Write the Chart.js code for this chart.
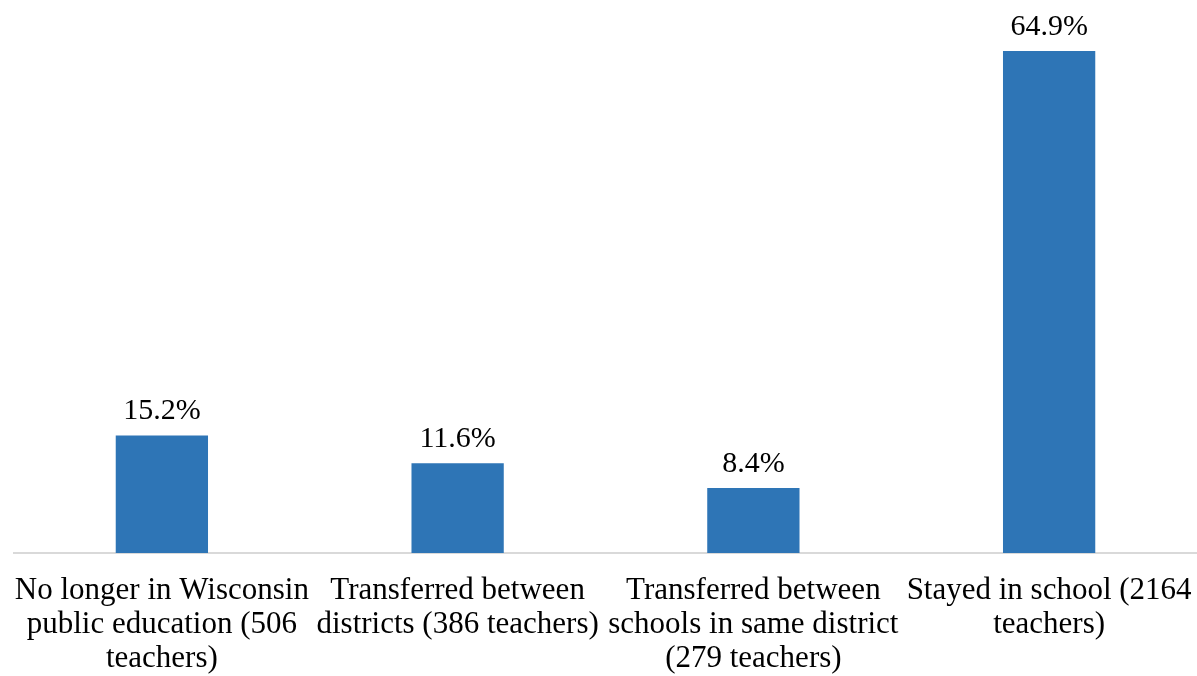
<!DOCTYPE html>
<html>
<head>
<meta charset="utf-8">
<script src="https://cdn.jsdelivr.net/npm/chart.js@4"></script>
<style>
  html, body { margin: 0; padding: 0; background: #fff; overflow: hidden; }
  #wrap { width: 1197px; height: 676px; position: relative; }
  canvas { display: block; }
</style>
</head>
<body>
<div id="wrap"><canvas id="teacherChart"></canvas></div>
<script>
// Where teachers went the following year
const categories = [
  ['No longer in Wisconsin', 'public education (506', 'teachers)'],
  ['Transferred between', 'districts (386 teachers)'],
  ['Transferred between', 'schools in same district', '(279 teachers)'],
  ['Stayed in school (2164', 'teachers)']
];
const percentages = [15.2, 11.6, 8.4, 64.9];

const FONT = "'Liberation Serif', 'Times New Roman', serif";

// draws the value above each bar
const valueLabels = {
  id: 'valueLabels',
  afterDatasetsDraw(chart) {
    const ctx = chart.ctx;
    const meta = chart.getDatasetMeta(0);
    ctx.save();
    ctx.font = '30px ' + FONT;
    ctx.fillStyle = '#000';
    ctx.textAlign = 'center';
    ctx.textBaseline = 'alphabetic';
    meta.data.forEach((bar, i) => {
      ctx.fillText(percentages[i].toFixed(1) + '%', bar.x, bar.y - 16);
    });
    ctx.restore();
  }
};

new Chart(document.getElementById('teacherChart').getContext('2d'), {
  type: 'bar',
  data: {
    labels: categories,
    datasets: [{
      data: percentages,
      backgroundColor: '#2E75B6',
      borderWidth: 0,
      categoryPercentage: 1,
      barPercentage: 0.312
    }]
  },
  options: {
    responsive: true,
    maintainAspectRatio: false,
    animation: false,
    layout: { padding: { left: 14, right: 0, top: 10, bottom: 0 } },
    plugins: {
      legend: { display: false },
      tooltip: { enabled: false }
    },
    scales: {
      y: {
        display: false,
        min: 0,
        max: 70.2
      },
      x: {
        grid: { display: false, drawTicks: false },
        border: { display: true, color: '#d9d9d9', width: 2 },
        afterFit(scale) {
          scale.height = 123;
          // labels may overhang the ends, keep the axis full width anyway
          scale.paddingLeft = 0;
          scale.paddingRight = 0;
        },
        ticks: {
          color: '#000',
          font: { family: FONT, size: 31, lineHeight: 1.1 },
          padding: 21,
          maxRotation: 0,
          autoSkip: false
        }
      }
    }
  },
  plugins: [valueLabels]
});
</script>
</body>
</html>
